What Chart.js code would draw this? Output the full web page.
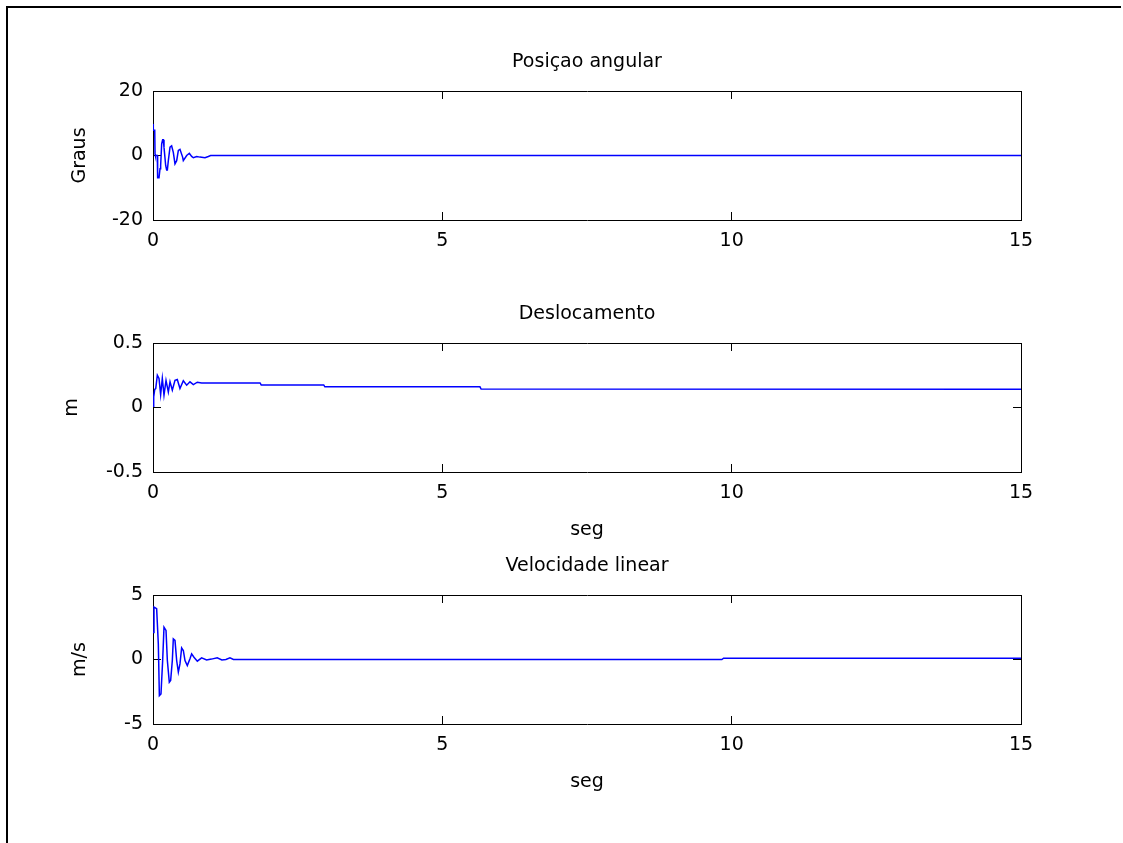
<!DOCTYPE html>
<html>
<head>
<meta charset="utf-8">
<script src="https://cdn.jsdelivr.net/npm/chart.js@4.4.1/dist/chart.umd.min.js"></script>
<style>
  html, body { margin: 0; padding: 0; background: #fff; }
  #page { position: relative; width: 1123px; height: 843px; overflow: hidden; background: #fff; }
  #frame { position: absolute; left: 6px; top: 6px; width: 1115px; height: 837px; border-top: 2px solid #000; border-left: 2px solid #000; box-sizing: border-box; }
  canvas { position: absolute; left: 0; }
</style>
</head>
<body>
<div id="page">
  <div id="frame"></div>
  <canvas id="c1" width="1123" height="252" style="top:0px"></canvas>
  <canvas id="c2" width="1123" height="300" style="top:252px"></canvas>
  <canvas id="c3" width="1123" height="300" style="top:504px"></canvas>
</div>
<script>
// tick labels
const xTicks = [0, 5, 10, 15];
const angTicks = [-20, 0, 20];
const dispTicks = [-0.5, 0, 0.5];
const velTicks = [-5, 0, 5];

// Posiçao angular (graus)
const angT = [0, 0.005, 0.03, 0.035, 0.041, 0.075, 0.08, 0.104, 0.121, 0.132, 0.15, 0.167, 0.178, 0.19,
  0.219, 0.236, 0.248, 0.265, 0.294, 0.322, 0.351, 0.38, 0.409, 0.438, 0.466, 0.512, 0.524, 0.582,
  0.628, 0.668, 0.697, 0.755, 0.812, 0.898, 0.956, 0.996, 15];
const angV = [9.8, 7.8, 7.8, 0.5, 0, 0, -6.9, -6.9, -4.1, -3.1, 3.6, 4.9, 4.9, 2.6,
  -3.1, -4.5, -4.5, -1.6, 2.6, 3.0, 1.0, -2.6, -1.6, 1.6, 1.9, -0.5, -1.6, 0,
  0.7, -0.3, -0.7, -0.3, -0.5, -0.7, -0.3, 0, 0];

// Deslocamento (m)
const dispT = [0, 0.012, 0.03, 0.047, 0.075, 0.104, 0.132, 0.161, 0.19, 0.225, 0.265, 0.294, 0.334,
  0.38, 0.42, 0.466, 0.524, 0.582, 0.639, 0.697, 0.766, 0.84, 1.85, 1.87, 2.95, 2.97, 5.65, 5.67, 15];
const dispV = [0.01, 0.083, 0.14, 0.147, 0.25, 0.225, 0.1, 0.225, 0.096, 0.21, 0.12, 0.2, 0.134,
  0.21, 0.217, 0.147, 0.207, 0.173, 0.199, 0.178, 0.196, 0.19, 0.19, 0.175, 0.175, 0.16, 0.16, 0.143, 0.142];

// Velocidade linear (m/s)
const velT = [0, 0.017, 0.063, 0.092, 0.11, 0.138, 0.167, 0.19, 0.225, 0.248, 0.282, 0.305, 0.334,
  0.351, 0.38, 0.409, 0.438, 0.466, 0.495, 0.524, 0.553, 0.593, 0.639, 0.668, 0.708, 0.766, 0.84,
  0.927, 1.01, 1.11, 1.19, 1.26, 1.33, 1.39, 9.83, 9.86, 15];
const velV = [2.1, 4.07, 3.94, 1.2, -2.8, -2.67, -0.08, 2.5, 2.25, -0.08, -1.76, -1.63, -0.08,
  1.6, 1.48, -0.08, -0.98, -0.34, 0.9, 0.7, -0.08, -0.47, 0.05, 0.44, 0.18, -0.13, 0.13,
  -0.03, 0.03, 0.13, -0.03, 0, 0.13, 0, 0, 0.1, 0.1];

Chart.defaults.font.family = "'DejaVu Sans', sans-serif";
Chart.defaults.font.size = 19;
Chart.defaults.color = "#000";

function subplot(id, title, yLabel, xLabel, times, values, yTicks, yTitlePad) {
    const canvas = document.getElementById(id);
    const H = canvas.height;
    const fixTicks = list => scale => { scale.ticks = list.map(v => ({ value: v })); };
    const inwardGrid = { display: true, drawOnChartArea: false, drawTicks: true, tickLength: -8, color: "#000", lineWidth: 1 };
    const edge = { display: true, color: "#000", width: 1 };
    const plain = v => String(v);

    return new Chart(canvas, {
        type: "line",
        data: {
            datasets: [{
                data: times.map((t, i) => ({ x: t, y: values[i] })),
                borderColor: "#0000ff",
                borderWidth: 1.5,
                pointRadius: 0,
                tension: 0,
                fill: false
            }]
        },
        options: {
            responsive: false,
            animation: false,
            devicePixelRatio: 1,
            layout: { padding: { left: 0, right: 102, top: 0, bottom: 0 } },
            plugins: {
                legend: { display: false },
                tooltip: { enabled: false },
                title: {
                    display: true,
                    text: title,
                    fullSize: false,
                    color: "#000",
                    font: { size: 19, weight: "normal" },
                    padding: { top: 50.6, bottom: 17.6 }
                }
            },
            scales: {
                x: {
                    type: "linear",
                    position: "bottom",
                    min: xTicks[0],
                    max: xTicks[xTicks.length - 1],
                    afterBuildTicks: fixTicks(xTicks),
                    afterFit: s => { s.height = H - 220; },
                    grid: inwardGrid,
                    border: edge,
                    ticks: { padding: 17.6, maxRotation: 0, autoSkip: false, callback: plain },
                    title: {
                        display: !!xLabel,
                        text: xLabel || "",
                        font: { size: 19 },
                        padding: { top: 0, bottom: 10.6 }
                    }
                },
                xTop: {
                    type: "linear",
                    position: "top",
                    min: xTicks[0],
                    max: xTicks[xTicks.length - 1],
                    afterBuildTicks: fixTicks(xTicks),
                    afterFit: s => { s.height = 0; },
                    grid: inwardGrid,
                    border: edge,
                    ticks: { display: false }
                },
                y: {
                    type: "linear",
                    position: "left",
                    min: yTicks[0],
                    max: yTicks[yTicks.length - 1],
                    afterBuildTicks: fixTicks(yTicks),
                    afterFit: s => { s.width = 153; },
                    grid: inwardGrid,
                    border: edge,
                    ticks: { padding: 18, autoSkip: false, callback: plain },
                    title: {
                        display: true,
                        text: yLabel,
                        font: { size: 19 },
                        padding: { top: yTitlePad, bottom: 0 }
                    }
                },
                yRight: {
                    type: "linear",
                    position: "right",
                    min: yTicks[0],
                    max: yTicks[yTicks.length - 1],
                    afterBuildTicks: fixTicks(yTicks),
                    afterFit: s => { s.width = 0; },
                    grid: inwardGrid,
                    border: edge,
                    ticks: { display: false }
                }
            }
        }
    });
}

subplot("c1", "Posiçao angular", "Graus", null, angT, angV, angTicks, 68.4);
subplot("c2", "Deslocamento", "m", "seg", dispT, dispV, dispTicks, 60.4);
subplot("c3", "Velocidade linear", "m/s", "seg", velT, velV, velTicks, 68.4);
</script>
</body>
</html>
